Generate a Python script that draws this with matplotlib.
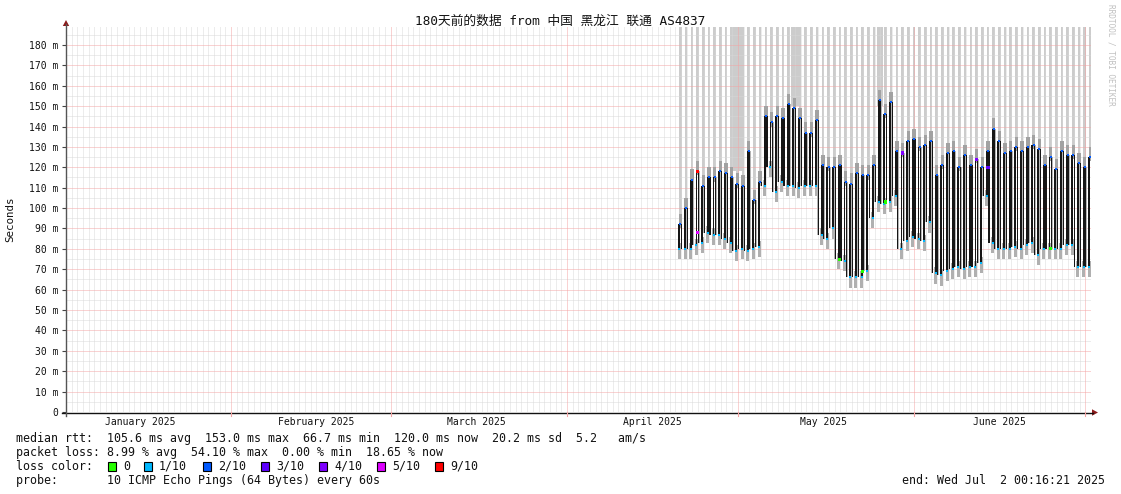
import matplotlib
matplotlib.use('Agg')
import matplotlib.pyplot as plt
import matplotlib.dates as mdates
from matplotlib.patches import Polygon, Rectangle
from matplotlib.lines import Line2D
from datetime import datetime, timedelta

plt.rcParams['lines.scale_dashes'] = False

# ---------------- data ----------------
title = "180天前的数据 from 中国 黑龙江 联通 AS4837"
start = datetime(2025, 1, 3, 0, 16, 21)
end = datetime(2025, 7, 2, 0, 16, 21)
first_day = datetime(2025, 4, 20, 22, 0)

# daily high / low of the median RTT (ms), one per day from first_day
daily_high = [92, 100, 114, 118, 111, 115, 115, 118, 117, 115, 112, 111, 128, 104, 113, 145, 142, 145,
              144, 151, 149, 144, 137, 137, 143, 121, 120, 120, 121, 113, 112, 117, 116, 116, 121, 153,
              146, 152, 128, 127, 133, 134, 130, 131, 133, 116, 121, 127, 128, 120, 126, 121,
              124, 120, 128, 139, 133, 127, 128, 130, 128, 130, 131, 129, 121, 125, 119, 128, 126, 126,
              122, 120, 125]
daily_low = [80, 80, 80, 82, 83, 88, 87, 87, 85, 83, 79, 80, 79, 80, 81, 111, 120, 108,
             113, 111, 111, 110, 111, 111, 111, 87, 85, 90, 75, 74, 66, 66, 66, 69, 95, 103,
             102, 103, 106, 80, 84, 86, 85, 84, 93, 68, 67, 69, 70, 71, 70, 71,
             71, 73, 106, 83, 80, 80, 80, 81, 80, 82, 83, 77, 80, 80, 80, 80, 82, 82,
             71, 71, 71]
last_value = 120.0

# points whose loss colour differs from the default (day index, value, loss class)
special_idx = [3, 3, 28, 32, 36, 65, 52, 39, 54]
special_val = [118, 88, 75, 69, 103, 80, 124, 127, 120]
special_cls = ["9/10", "5/10", "0", "0", "0", "0", "4/10", "4/10", "3/10"]

# wider periods of packet loss (gray smoke reaching to the top)
loss_span_start = [datetime(2025, 4, 29, 18), datetime(2025, 5, 10, 7), datetime(2025, 5, 25, 9)]
loss_span_end = [datetime(2025, 5, 2, 2), datetime(2025, 5, 12, 1), datetime(2025, 5, 26, 11)]
loss_span_floor = [118, 150, 150]

loss_classes = ["0", "1/10", "2/10", "3/10", "4/10", "5/10", "9/10"]
loss_colors = ["#26ff00", "#00b8ff", "#0059ff", "#5e00ff", "#7e00ff", "#dd00ff", "#ff0000"]

yticks = list(range(0, 181, 10))
ytick_labels = ["0"] + [f"{v} m" for v in yticks[1:]]
month_starts = [datetime(2025, m, 1) for m in range(2, 8)]
month_label_dates = [datetime(2025, m, 16) for m in range(1, 7)]
month_labels = ["January 2025", "February 2025", "March 2025", "April 2025", "May 2025", "June 2025"]

legend_lines = [
    "median rtt:  105.6 ms avg  153.0 ms max  66.7 ms min  120.0 ms now  20.2 ms sd  5.2   am/s",
    "packet loss: 8.99 % avg  54.10 % max  0.00 % min  18.65 % now",
]
probe_line = "probe:       10 ICMP Echo Pings (64 Bytes) every 60s"
end_line = "end: Wed Jul  2 00:16:21 2025"

# ---------------- figure ----------------
W, H = 1121, 494
YMAX = 188.8
fig = plt.figure(figsize=(W / 100, H / 100), dpi=100)
fig.patch.set_facecolor("white")

def P(x, y):
    return (x / W, 1 - y / H)

ax = fig.add_axes([66 / W, 1 - 412 / H, 1025 / W, 385 / H])
x0, x1 = mdates.date2num(start), mdates.date2num(end)
ax.set_xlim(x0, x1)
ax.set_ylim(0, YMAX)
for s in ax.spines.values():
    s.set_visible(False)
ax.set_xticks([])
ax.set_yticks(yticks)
ax.set_yticklabels(ytick_labels, family="DejaVu Sans Mono", fontsize=7.0, color="#111111")
ax.tick_params(axis="y", length=3, width=0.8, color="#444444", pad=2.5, direction="out")

pxday = 1025 / (x1 - x0)  # pixels per day

# grid
minor_style = dict(color="#d8d8d8", lw=0.7, ls=(0, (0.72, 0.72)), zorder=1.5)
major_style = dict(color="#f4a4a4", lw=0.7, ls=(0, (0.72, 0.72)), zorder=1.6)
d = datetime(2025, 1, 4)
while d < end:
    if d.day != 1:
        ax.axvline(mdates.date2num(d), **minor_style)
    d += timedelta(days=1)
for v in range(5, 190, 10):
    ax.axhline(v, **minor_style)
for v in range(10, 190, 10):
    ax.axhline(v, **major_style)
for m in month_starts:
    ax.axvline(mdates.date2num(m), **major_style)

# data
n = len(daily_high)
days = [mdates.date2num(first_day + timedelta(days=i)) for i in range(n)]
next_low = daily_low[1:] + [last_value]
off = 0.19  # half separation (days) between the rising and falling edge of each day

# loss smoke to top
ax.bar(days, [YMAX - (h + 1) for h in daily_high], bottom=[h + 1 for h in daily_high],
       width=2.6 / pxday, color="#cccccc", linewidth=0, zorder=1)
for s0, s1, fl in zip(loss_span_start, loss_span_end, loss_span_floor):
    ax.fill_between([mdates.date2num(s0), mdates.date2num(s1)], fl, YMAX, color="#cccccc",
                    linewidth=0, zorder=1)

rise_x = [x - off for x in days]
fall_x = [x + off for x in days]
# ping smoke at the ends of the edges
ax.bar(rise_x, [8] * n, bottom=[l - 5 for l in daily_low], width=3.0 / pxday,
       color="#b0b0b0", linewidth=0, zorder=2)
ax.bar(days, [7] * n, bottom=[h - 2 for h in daily_high], width=3.4 / pxday,
       color="#a2a2a2", linewidth=0, zorder=2)
ax.bar(fall_x, [h - l for h, l in zip(daily_high, next_low)], bottom=next_low,
       width=1.9 / pxday, color="#b4b4b4", linewidth=0, zorder=2)
# median: rising edge and falling edge of every day
ax.bar(rise_x, [h - l for h, l in zip(daily_high, daily_low)], bottom=daily_low,
       width=1.9 / pxday, color="#161616", linewidth=0, zorder=3)
ax.bar(fall_x, [h - l for h, l in zip(daily_high, next_low)], bottom=next_low,
       width=1.1 / pxday, color="#161616", linewidth=0, zorder=3)

# loss colored points
ax.scatter(days, daily_high, marker="s", s=4.5, color=loss_colors[2], linewidths=0, zorder=4)
ax.scatter(rise_x, daily_low, marker="s", s=4.5, color=loss_colors[1], linewidths=0, zorder=4)
ax.scatter([days[i] for i in special_idx], special_val, marker="s", s=5,
           color=[loss_colors[loss_classes.index(c)] for c in special_cls], linewidths=0, zorder=5)

# axes lines and arrows
fig.add_artist(Line2D([62 / W, 1093 / W], [1 - 412.5 / H, 1 - 412.5 / H], color="#111111", lw=1.0))
fig.add_artist(Line2D([66 / W, 66 / W], [1 - 416 / H, 1 - 24 / H], color="#555555", lw=1.0))
fig.add_artist(Polygon([P(1092, 409.3), P(1092, 415.7), P(1098, 412.5)], closed=True,
                       facecolor="#8b1a1a", edgecolor="none", transform=fig.transFigure))
fig.add_artist(Polygon([P(62.8, 26), P(69.2, 26), P(66, 20)], closed=True,
                       facecolor="#8b1a1a", edgecolor="none", transform=fig.transFigure))
for m in month_starts:
    xm = 66 + (mdates.date2num(m) - x0) * pxday
    fig.add_artist(Line2D([xm / W, xm / W], [1 - 412 / H, 1 - 416 / H], color="#f4a4a4", lw=0.8))

# month labels
for dt, lab in zip(month_label_dates, month_labels):
    xm = 66 + (mdates.date2num(dt) - x0) * pxday
    fig.text(xm / W, 1 - 421.5 / H, lab, ha="center", va="center", family="DejaVu Sans Mono",
             fontsize=7.0, color="#111111")

# title and labels
fig.text(560 / W, 1 - 21 / H, title, ha="center", va="center",
         family=["DejaVu Sans Mono", "Noto Sans CJK SC"], fontsize=9.2, color="#111111")
fig.text(10 / W, 1 - 219 / H, "Seconds", rotation=90, ha="center", va="center",
         family="DejaVu Sans Mono", fontsize=7.8, color="#111111")
fig.text(1111 / W, 1 - 4 / H, "RRDTOOL / TOBI OETIKER", rotation=270, ha="center", va="top",
         family="DejaVu Sans Mono", fontsize=5.6, color="#c0c0c0")

# legend
for i, line in enumerate(legend_lines):
    fig.text(16 / W, 1 - (438 + 14 * i) / H, line, ha="left", va="center",
             family="DejaVu Sans Mono", fontsize=8.4, color="#111111")
fig.text(16 / W, 1 - 466 / H, "loss color:", ha="left", va="center",
         family="DejaVu Sans Mono", fontsize=8.4, color="#111111")
sq_x = [108, 144, 203, 261, 319, 377, 435]
for xs, c, lab in zip(sq_x, loss_colors, loss_classes):
    fig.add_artist(Rectangle(P(xs, 470.5), 8 / W, 9 / H, facecolor=c, edgecolor="#000000",
                             lw=0.8, transform=fig.transFigure))
    fig.text((xs + 15) / W, 1 - 466 / H, lab, ha="left", va="center",
             family="DejaVu Sans Mono", fontsize=8.4, color="#111111")
fig.text(16 / W, 1 - 480 / H, probe_line, ha="left", va="center",
         family="DejaVu Sans Mono", fontsize=8.4, color="#111111")
fig.text(1105 / W, 1 - 480 / H, end_line, ha="right", va="center",
         family="DejaVu Sans Mono", fontsize=8.4, color="#111111")

fig.savefig("out.png", dpi=100, facecolor="white")
